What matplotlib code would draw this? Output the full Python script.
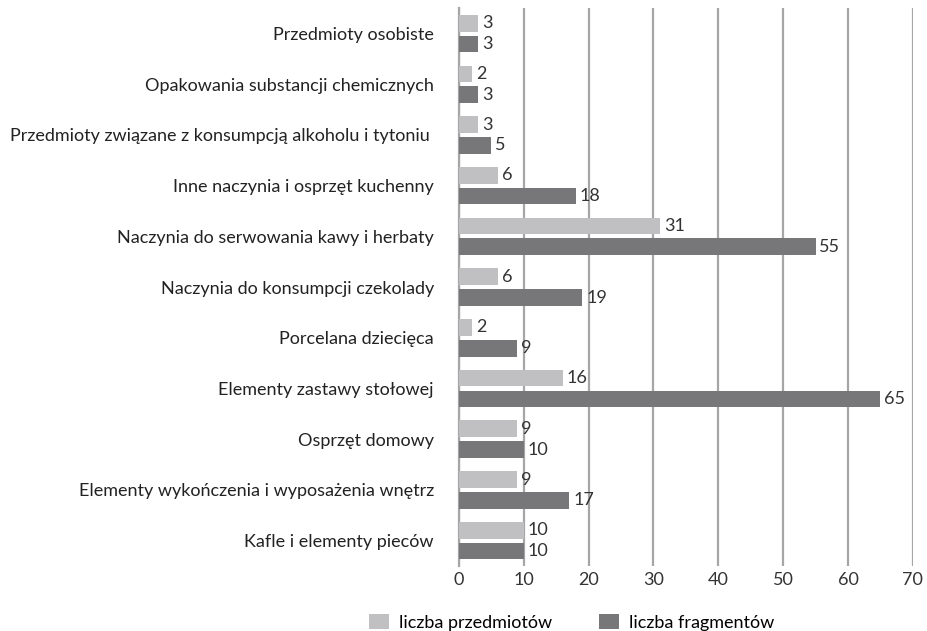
import matplotlib
matplotlib.use("Agg")
import matplotlib.pyplot as plt
import numpy as np

categories = [
    "Kafle i elementy pieców",
    "Elementy wykończenia i wyposażenia wnętrz",
    "Osprzęt domowy",
    "Elementy zastawy stołowej",
    "Porcelana dziecięca",
    "Naczynia do konsumpcji czekolady",
    "Naczynia do serwowania kawy i herbaty",
    "Inne naczynia i osprzęt kuchenny",
    "Przedmioty związane z konsumpcją alkoholu i tytoniu ",
    "Opakowania substancji chemicznych",
    "Przedmioty osobiste",
]
przedmioty = [10, 9, 9, 16, 2, 6, 31, 6, 3, 2, 3]
fragmenty = [10, 17, 10, 65, 9, 19, 55, 18, 5, 3, 3]
xticks = [0, 10, 20, 30, 40, 50, 60, 70]

plt.rcParams['font.family'] = ['Lato', 'DejaVu Sans']
FS = 13

fig = plt.figure(figsize=(9.28, 6.31), dpi=100)
ax = fig.add_axes([0.4946, 0.103, 0.489, 0.884])

y = np.arange(len(categories))
h = 0.33
off = 0.205
light = '#c0c0c2'
dark = '#77777a'
b1 = ax.barh(y + off, przedmioty, height=h, color=light, label='liczba przedmiotów', zorder=3)
b2 = ax.barh(y - off, fragmenty, height=h, color=dark, label='liczba fragmentów', zorder=3)

for bars, vals in ((b1, przedmioty), (b2, fragmenty)):
    for r, v in zip(bars, vals):
        ax.text(r.get_width() + 0.6, r.get_y() + r.get_height() / 2, str(v),
                va='center', ha='left', fontsize=FS, color='#333333', zorder=4)

ax.set_xlim(0, 70)
ax.set_ylim(-0.5, len(categories) - 0.5)
ax.set_xticks(xticks)
ax.set_xticklabels([str(t) for t in xticks], fontsize=FS, color='#333333')
ax.set_yticks(y)
ax.set_yticklabels(categories, fontsize=FS, color='#222222')
ax.tick_params(axis='x', length=0, pad=4)
ax.tick_params(axis='y', length=0, pad=18)
ax.grid(axis='x', color='#a6a6a6', linewidth=1.6, zorder=0)
for s in ['top', 'right', 'bottom']:
    ax.spines[s].set_visible(False)
ax.spines['left'].set_color('#a6a6a6')
ax.spines['left'].set_linewidth(1.6)

fig.legend(handles=[b1, b2], loc='center', bbox_to_anchor=(0.616, 0.014),
           ncol=2, frameon=False, fontsize=FS, handlelength=1.1, handleheight=0.9,
           columnspacing=2.6, handletextpad=0.55)

fig.savefig('out.png', dpi=100)
